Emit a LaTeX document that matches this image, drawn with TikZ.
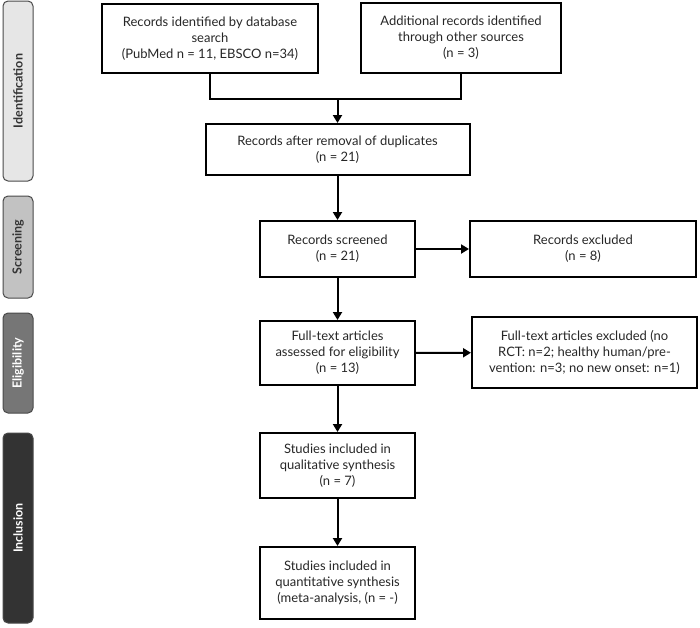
\documentclass[tikz,border=0pt]{standalone}
\usepackage{fontspec}
\setmainfont{Lato}
\usetikzlibrary{positioning,arrows.meta}

\definecolor{identfill}{HTML}{E6E6E6}
\definecolor{screenfill}{HTML}{C2C2C2}
\definecolor{eligfill}{HTML}{767676}
\definecolor{inclfill}{HTML}{333333}
\definecolor{barline}{HTML}{4A4A4A}

\begin{document}
\begin{tikzpicture}[x=1pt, y=-1pt,
    box/.style={draw, line width=2pt, align=center, inner sep=2pt,
        text=black!85, font=\fontsize{13}{16}\selectfont},
    stage/.style={draw=barline, line width=1pt, rounded corners=5pt,
        minimum width=30pt, font=\bfseries\fontsize{12.5}{14}\selectfont},
    arr/.style={line width=2pt, -{Triangle[length=8pt,width=9pt]}},
    lnk/.style={line width=2pt}]
    \useasboundingbox (0,0) rectangle (700,627);

    % Stage bars
    \node[stage, fill=identfill, text=inclfill, minimum height=180pt] (ident) at (18,91)
        {\rotatebox{90}{Identification}};
    \node[stage, fill=screenfill, text=inclfill, minimum height=102pt] (screen) at (18,247)
        {\rotatebox{90}{Screening}};
    \node[stage, fill=eligfill, text=white, minimum height=100pt] (elig) at (18,363)
        {\rotatebox{90}{Eligibility}};
    \node[stage, fill=inclfill, text=white, minimum height=190pt] (incl) at (18,528)
        {\rotatebox{90}{Inclusion}};

    % Identification
    \node[box, minimum width=216pt, minimum height=69pt] (dbsearch) at (210,38.5)
        {Records identified by database\\search\\(PubMed n = 11, EBSCO n=34)};
    \node[box, minimum width=200pt, minimum height=70pt] (other) at (461,38)
        {Additional records identified\\through other sources\\(n = 3)};
    \node[box, minimum width=264pt, minimum height=51pt] (dupl) at (337.5,149.5)
        {Records after removal of duplicates\\(n = 21)};

    % Screening
    \node[box, minimum width=155pt, minimum height=56pt] (screened) at (337.5,249)
        {Records screened\\(n = 21)};
    \node[box, minimum width=226pt, minimum height=56pt] (excl) at (583,249)
        {Records excluded\\(n = 8)};

    % Eligibility
    \node[box, minimum width=155pt, minimum height=64pt] (fulltext) at (337.5,353)
        {Full-text articles\\assessed for eligibility\\(n = 13)};
    \node[box, minimum width=225pt, minimum height=71pt] (ftexcl) at (584.5,352.5)
        {Full-text articles excluded (no\\RCT: n=2; healthy human/pre-\\vention: n=3; no new onset: n=1)};

    % Inclusion
    \node[box, minimum width=155pt, minimum height=65pt] (qual) at (337.5,465.5)
        {Studies included in\\qualitative synthesis\\(n = 7)};
    \node[box, minimum width=155pt, minimum height=72pt] (quant) at (337.5,583)
        {Studies included in\\quantitative synthesis\\(meta-analysis, (n = -)};

    % Connectors
    \coordinate (merge) at (337.5,99);
    \draw[lnk] (dbsearch.south) |- (merge) -| (other.south);
    \draw[arr] (merge) -- (dupl);
    \draw[arr] (dupl) -- (screened);
    \draw[arr] (screened) -- (excl);
    \draw[arr] (screened) -- (fulltext);
    \draw[arr] (fulltext) -- (ftexcl);
    \draw[arr] (fulltext) -- (qual);
    \draw[arr] (qual) -- (quant);
\end{tikzpicture}
\end{document}
